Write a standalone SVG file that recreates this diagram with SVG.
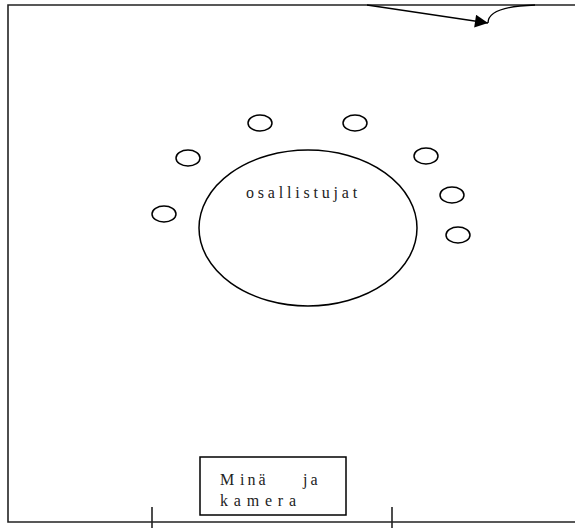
<svg xmlns="http://www.w3.org/2000/svg" width="575" height="528" viewBox="0 0 575 528">
  <style>
    .frame { stroke: #222; stroke-width: 1.6; fill: none; }
    .seat { fill: #fff; stroke: #000; stroke-width: 1.5; }
    .label { font-family: "Liberation Serif", "Times New Roman", serif; font-size: 16px; fill: #222; }
    .conn { stroke: #000; stroke-width: 1.3; fill: none; }
  </style>
  <defs>
    <marker id="arrow" viewBox="0 0 10 10" refX="10" refY="5" markerWidth="21" markerHeight="13" markerUnits="userSpaceOnUse" orient="auto">
      <path d="M0,0 L10,5 L0,10 z" fill="#000"/>
    </marker>
  </defs>
  <rect width="575" height="528" fill="#fff"/>

  <!-- room walls -->
  <g id="room">
    <path class="frame" d="M575,5 H8 V522 H575"/>
    <line class="frame" x1="152" y1="507" x2="152" y2="528"/>
    <line class="frame" x1="392" y1="507" x2="392" y2="528"/>
  </g>

  <!-- participants group -->
  <g id="participants">
    <ellipse class="seat" cx="308" cy="228" rx="109" ry="78"/>
    <text class="label" x="246" y="198" letter-spacing="3.8">osallistujat</text>
  </g>

  <g id="seats">
    <ellipse class="seat" cx="260" cy="123" rx="12" ry="8"/>
    <ellipse class="seat" cx="355" cy="123" rx="12" ry="8"/>
    <ellipse class="seat" cx="188" cy="158" rx="12" ry="8"/>
    <ellipse class="seat" cx="426" cy="156" rx="12" ry="8"/>
    <ellipse class="seat" cx="164" cy="214" rx="12" ry="8"/>
    <ellipse class="seat" cx="452" cy="195" rx="12" ry="8"/>
    <ellipse class="seat" cx="458" cy="235" rx="12" ry="8"/>
  </g>

  <!-- camera position -->
  <g id="camera">
    <rect x="200" y="457" width="146" height="58" fill="#fff" stroke="#000" stroke-width="1.5"/>
    <text class="label" y="485" letter-spacing="3"><tspan x="220">M</tspan><tspan x="240">inä</tspan><tspan x="303">ja</tspan></text>
    <text class="label" x="220" y="506" letter-spacing="5.8">kamera</text>
  </g>

  <!-- entrance arrow -->
  <g id="connectors">
    <line class="conn" x1="367" y1="5" x2="488" y2="23" marker-end="url(#arrow)"/>
    <path class="conn" d="M488,23 C488,12 505,6 535,5"/>
  </g>
</svg>
